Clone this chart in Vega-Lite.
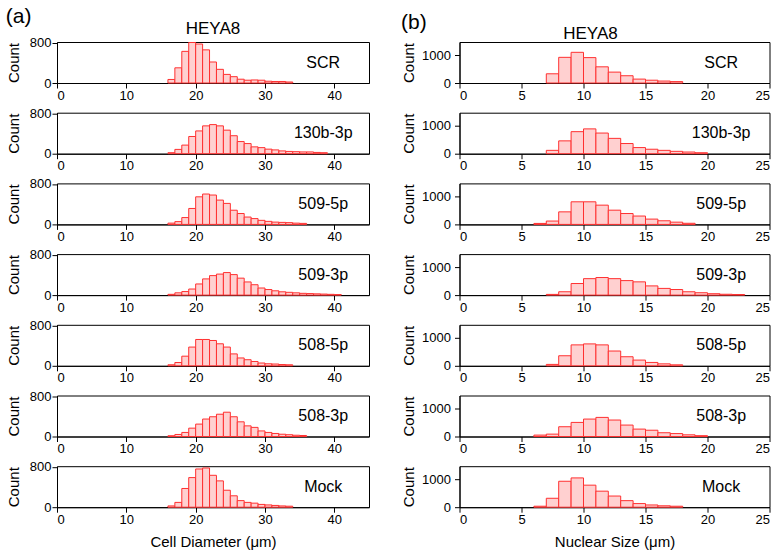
{
  "$schema": "https://vega.github.io/schema/vega-lite/v6.json",
  "background": "white",
  "padding": {"left": 5, "top": 6, "right": 5, "bottom": 2},
  "config": {
    "font": "Liberation Sans",
    "view": {"stroke": "#000", "strokeWidth": 1},
    "axis": {"grid": false, "domainColor": "#000", "tickColor": "#000", "labelColor": "#000", "titleColor": "#000", "labelFontSize": 13, "titleFontSize": 15, "titleFontWeight": "normal", "labelFont": "Liberation Sans", "titleFont": "Liberation Sans", "labelOverlap": false, "format": "d"},
    "title": {"font": "Liberation Sans", "fontWeight": "normal", "color": "#000"},
    "bar": {"fill": "#ffd0d0", "stroke": "#ff3030", "strokeWidth": 1},
    "text": {"font": "Liberation Sans", "fontSize": 16, "color": "#000"}
  },
  "hconcat": [
    {
      "title": {"text": "(a)", "anchor": "start", "fontSize": 21, "offset": -8},
      "spacing": 29.7,
      "bounds": "flush",
      "vconcat": [
        {"width": 312, "height": 41, "title": {"text": "HEYA8", "fontSize": 17, "offset": -1, "dx": 0},
         "layer": [
          {"data": {"values": [{"x0":16,"x1":17,"n":70},{"x0":17,"x1":18,"n":300},{"x0":18,"x1":19,"n":625},{"x0":19,"x1":20,"n":800},{"x0":20,"x1":21,"n":770},{"x0":21,"x1":22,"n":655},{"x0":22,"x1":23,"n":415},{"x0":23,"x1":24,"n":270},{"x0":24,"x1":25,"n":170},{"x0":25,"x1":26,"n":125},{"x0":26,"x1":27,"n":75},{"x0":27,"x1":28,"n":55},{"x0":28,"x1":29,"n":60},{"x0":29,"x1":30,"n":55},{"x0":30,"x1":31,"n":35},{"x0":31,"x1":32,"n":30},{"x0":32,"x1":33,"n":30},{"x0":33,"x1":34,"n":20}]},
           "mark": "bar",
           "encoding": {
            "x": {"field": "x0", "type": "quantitative", "scale": {"domain": [0, 45], "nice": false}, "axis": {"title": null, "values": [0,5,10,15,20,25,30,35,40], "labelExpr": "datum.value % 10 === 0 ? datum.label : ''", "tickSize": {"condition": {"test": "datum.value % 10 === 0", "value": 5}, "value": 3}, "labelPadding": 1}},
            "x2": {"field": "x1"},
            "y": {"field": "n", "type": "quantitative", "scale": {"domain": [0, 810], "nice": false}, "axis": {"title": "Count", "values": [0,200,400,600,800], "labelExpr": "datum.value % 400 === 0 ? datum.label : ''", "tickSize": {"condition": {"test": "datum.value % 400 === 0", "value": 5}, "value": 3}, "labelPadding": 1, "titlePadding": 8}},
            "y2": {"datum": 0}
           }},
          {"data": {"values": [{"label": "SCR"}]}, "mark": {"type": "text", "align": "center", "baseline": "middle"},
           "encoding": {"text": {"field": "label"}, "x": {"datum": 38.4}, "y": {"datum": 405}}}
         ]},
        {"width": 312, "height": 41,
         "layer": [
          {"data": {"values": [{"x0":16,"x1":17,"n":20},{"x0":17,"x1":18,"n":85},{"x0":18,"x1":19,"n":170},{"x0":19,"x1":20,"n":340},{"x0":20,"x1":21,"n":450},{"x0":21,"x1":22,"n":550},{"x0":22,"x1":23,"n":575},{"x0":23,"x1":24,"n":550},{"x0":24,"x1":25,"n":465},{"x0":25,"x1":26,"n":355},{"x0":26,"x1":27,"n":240},{"x0":27,"x1":28,"n":200},{"x0":28,"x1":29,"n":135},{"x0":29,"x1":30,"n":120},{"x0":30,"x1":31,"n":90},{"x0":31,"x1":32,"n":75},{"x0":32,"x1":33,"n":55},{"x0":33,"x1":34,"n":45},{"x0":34,"x1":35,"n":40},{"x0":35,"x1":36,"n":35},{"x0":36,"x1":37,"n":35},{"x0":37,"x1":38,"n":25},{"x0":38,"x1":39,"n":20}]},
           "mark": "bar",
           "encoding": {
            "x": {"field": "x0", "type": "quantitative", "scale": {"domain": [0, 45], "nice": false}, "axis": {"title": null, "values": [0,5,10,15,20,25,30,35,40], "labelExpr": "datum.value % 10 === 0 ? datum.label : ''", "tickSize": {"condition": {"test": "datum.value % 10 === 0", "value": 5}, "value": 3}, "labelPadding": 1}},
            "x2": {"field": "x1"},
            "y": {"field": "n", "type": "quantitative", "scale": {"domain": [0, 810], "nice": false}, "axis": {"title": "Count", "values": [0,200,400,600,800], "labelExpr": "datum.value % 400 === 0 ? datum.label : ''", "tickSize": {"condition": {"test": "datum.value % 400 === 0", "value": 5}, "value": 3}, "labelPadding": 1, "titlePadding": 8}},
            "y2": {"datum": 0}
           }},
          {"data": {"values": [{"label": "130b-3p"}]}, "mark": {"type": "text", "align": "center", "baseline": "middle"},
           "encoding": {"text": {"field": "label"}, "x": {"datum": 38.4}, "y": {"datum": 405}}}
         ]},
        {"width": 312, "height": 41,
         "layer": [
          {"data": {"values": [{"x0":16,"x1":17,"n":25},{"x0":17,"x1":18,"n":55},{"x0":18,"x1":19,"n":135},{"x0":19,"x1":20,"n":315},{"x0":20,"x1":21,"n":545},{"x0":21,"x1":22,"n":600},{"x0":22,"x1":23,"n":580},{"x0":23,"x1":24,"n":480},{"x0":24,"x1":25,"n":415},{"x0":25,"x1":26,"n":280},{"x0":26,"x1":27,"n":215},{"x0":27,"x1":28,"n":145},{"x0":28,"x1":29,"n":115},{"x0":29,"x1":30,"n":80},{"x0":30,"x1":31,"n":60},{"x0":31,"x1":32,"n":45},{"x0":32,"x1":33,"n":40},{"x0":33,"x1":34,"n":35},{"x0":34,"x1":35,"n":25},{"x0":35,"x1":36,"n":20}]},
           "mark": "bar",
           "encoding": {
            "x": {"field": "x0", "type": "quantitative", "scale": {"domain": [0, 45], "nice": false}, "axis": {"title": null, "values": [0,5,10,15,20,25,30,35,40], "labelExpr": "datum.value % 10 === 0 ? datum.label : ''", "tickSize": {"condition": {"test": "datum.value % 10 === 0", "value": 5}, "value": 3}, "labelPadding": 1}},
            "x2": {"field": "x1"},
            "y": {"field": "n", "type": "quantitative", "scale": {"domain": [0, 810], "nice": false}, "axis": {"title": "Count", "values": [0,200,400,600,800], "labelExpr": "datum.value % 400 === 0 ? datum.label : ''", "tickSize": {"condition": {"test": "datum.value % 400 === 0", "value": 5}, "value": 3}, "labelPadding": 1, "titlePadding": 8}},
            "y2": {"datum": 0}
           }},
          {"data": {"values": [{"label": "509-5p"}]}, "mark": {"type": "text", "align": "center", "baseline": "middle"},
           "encoding": {"text": {"field": "label"}, "x": {"datum": 38.4}, "y": {"datum": 405}}}
         ]},
        {"width": 312, "height": 41,
         "layer": [
          {"data": {"values": [{"x0":16,"x1":17,"n":15},{"x0":17,"x1":18,"n":45},{"x0":18,"x1":19,"n":70},{"x0":19,"x1":20,"n":120},{"x0":20,"x1":21,"n":220},{"x0":21,"x1":22,"n":320},{"x0":22,"x1":23,"n":385},{"x0":23,"x1":24,"n":415},{"x0":24,"x1":25,"n":445},{"x0":25,"x1":26,"n":405},{"x0":26,"x1":27,"n":335},{"x0":27,"x1":28,"n":260},{"x0":28,"x1":29,"n":205},{"x0":29,"x1":30,"n":140},{"x0":30,"x1":31,"n":110},{"x0":31,"x1":32,"n":85},{"x0":32,"x1":33,"n":65},{"x0":33,"x1":34,"n":55},{"x0":34,"x1":35,"n":45},{"x0":35,"x1":36,"n":35},{"x0":36,"x1":37,"n":30},{"x0":37,"x1":38,"n":25},{"x0":38,"x1":39,"n":20},{"x0":39,"x1":40,"n":15},{"x0":40,"x1":41,"n":10}]},
           "mark": "bar",
           "encoding": {
            "x": {"field": "x0", "type": "quantitative", "scale": {"domain": [0, 45], "nice": false}, "axis": {"title": null, "values": [0,5,10,15,20,25,30,35,40], "labelExpr": "datum.value % 10 === 0 ? datum.label : ''", "tickSize": {"condition": {"test": "datum.value % 10 === 0", "value": 5}, "value": 3}, "labelPadding": 1}},
            "x2": {"field": "x1"},
            "y": {"field": "n", "type": "quantitative", "scale": {"domain": [0, 810], "nice": false}, "axis": {"title": "Count", "values": [0,200,400,600,800], "labelExpr": "datum.value % 400 === 0 ? datum.label : ''", "tickSize": {"condition": {"test": "datum.value % 400 === 0", "value": 5}, "value": 3}, "labelPadding": 1, "titlePadding": 8}},
            "y2": {"datum": 0}
           }},
          {"data": {"values": [{"label": "509-3p"}]}, "mark": {"type": "text", "align": "center", "baseline": "middle"},
           "encoding": {"text": {"field": "label"}, "x": {"datum": 38.4}, "y": {"datum": 405}}}
         ]},
        {"width": 312, "height": 41,
         "layer": [
          {"data": {"values": [{"x0":16,"x1":17,"n":20},{"x0":17,"x1":18,"n":65},{"x0":18,"x1":19,"n":190},{"x0":19,"x1":20,"n":370},{"x0":20,"x1":21,"n":520},{"x0":21,"x1":22,"n":520},{"x0":22,"x1":23,"n":500},{"x0":23,"x1":24,"n":435},{"x0":24,"x1":25,"n":370},{"x0":25,"x1":26,"n":235},{"x0":26,"x1":27,"n":155},{"x0":27,"x1":28,"n":120},{"x0":28,"x1":29,"n":85},{"x0":29,"x1":30,"n":55},{"x0":30,"x1":31,"n":40},{"x0":31,"x1":32,"n":35},{"x0":32,"x1":33,"n":25},{"x0":33,"x1":34,"n":20}]},
           "mark": "bar",
           "encoding": {
            "x": {"field": "x0", "type": "quantitative", "scale": {"domain": [0, 45], "nice": false}, "axis": {"title": null, "values": [0,5,10,15,20,25,30,35,40], "labelExpr": "datum.value % 10 === 0 ? datum.label : ''", "tickSize": {"condition": {"test": "datum.value % 10 === 0", "value": 5}, "value": 3}, "labelPadding": 1}},
            "x2": {"field": "x1"},
            "y": {"field": "n", "type": "quantitative", "scale": {"domain": [0, 810], "nice": false}, "axis": {"title": "Count", "values": [0,200,400,600,800], "labelExpr": "datum.value % 400 === 0 ? datum.label : ''", "tickSize": {"condition": {"test": "datum.value % 400 === 0", "value": 5}, "value": 3}, "labelPadding": 1, "titlePadding": 8}},
            "y2": {"datum": 0}
           }},
          {"data": {"values": [{"label": "508-5p"}]}, "mark": {"type": "text", "align": "center", "baseline": "middle"},
           "encoding": {"text": {"field": "label"}, "x": {"datum": 38.4}, "y": {"datum": 405}}}
         ]},
        {"width": 312, "height": 41,
         "layer": [
          {"data": {"values": [{"x0":16,"x1":17,"n":15},{"x0":17,"x1":18,"n":40},{"x0":18,"x1":19,"n":80},{"x0":19,"x1":20,"n":165},{"x0":20,"x1":21,"n":245},{"x0":21,"x1":22,"n":345},{"x0":22,"x1":23,"n":390},{"x0":23,"x1":24,"n":440},{"x0":24,"x1":25,"n":480},{"x0":25,"x1":26,"n":390},{"x0":26,"x1":27,"n":290},{"x0":27,"x1":28,"n":210},{"x0":28,"x1":29,"n":180},{"x0":29,"x1":30,"n":110},{"x0":30,"x1":31,"n":80},{"x0":31,"x1":32,"n":60},{"x0":32,"x1":33,"n":45},{"x0":33,"x1":34,"n":35},{"x0":34,"x1":35,"n":25},{"x0":35,"x1":36,"n":20}]},
           "mark": "bar",
           "encoding": {
            "x": {"field": "x0", "type": "quantitative", "scale": {"domain": [0, 45], "nice": false}, "axis": {"title": null, "values": [0,5,10,15,20,25,30,35,40], "labelExpr": "datum.value % 10 === 0 ? datum.label : ''", "tickSize": {"condition": {"test": "datum.value % 10 === 0", "value": 5}, "value": 3}, "labelPadding": 1}},
            "x2": {"field": "x1"},
            "y": {"field": "n", "type": "quantitative", "scale": {"domain": [0, 810], "nice": false}, "axis": {"title": "Count", "values": [0,200,400,600,800], "labelExpr": "datum.value % 400 === 0 ? datum.label : ''", "tickSize": {"condition": {"test": "datum.value % 400 === 0", "value": 5}, "value": 3}, "labelPadding": 1, "titlePadding": 8}},
            "y2": {"datum": 0}
           }},
          {"data": {"values": [{"label": "508-3p"}]}, "mark": {"type": "text", "align": "center", "baseline": "middle"},
           "encoding": {"text": {"field": "label"}, "x": {"datum": 38.4}, "y": {"datum": 405}}}
         ]},
        {"width": 312, "height": 41,
         "layer": [
          {"data": {"values": [{"x0":16,"x1":17,"n":25},{"x0":17,"x1":18,"n":95},{"x0":18,"x1":19,"n":370},{"x0":19,"x1":20,"n":585},{"x0":20,"x1":21,"n":755},{"x0":21,"x1":22,"n":775},{"x0":22,"x1":23,"n":630},{"x0":23,"x1":24,"n":520},{"x0":24,"x1":25,"n":335},{"x0":25,"x1":26,"n":225},{"x0":26,"x1":27,"n":130},{"x0":27,"x1":28,"n":95},{"x0":28,"x1":29,"n":80},{"x0":29,"x1":30,"n":55},{"x0":30,"x1":31,"n":45},{"x0":31,"x1":32,"n":35},{"x0":32,"x1":33,"n":25},{"x0":33,"x1":34,"n":20}]},
           "mark": "bar",
           "encoding": {
            "x": {"field": "x0", "type": "quantitative", "scale": {"domain": [0, 45], "nice": false}, "axis": {"title": "Cell Diameter (μm)", "titlePadding": 8, "values": [0,5,10,15,20,25,30,35,40], "labelExpr": "datum.value % 10 === 0 ? datum.label : ''", "tickSize": {"condition": {"test": "datum.value % 10 === 0", "value": 5}, "value": 3}, "labelPadding": 1}},
            "x2": {"field": "x1"},
            "y": {"field": "n", "type": "quantitative", "scale": {"domain": [0, 810], "nice": false}, "axis": {"title": "Count", "values": [0,200,400,600,800], "labelExpr": "datum.value % 400 === 0 ? datum.label : ''", "tickSize": {"condition": {"test": "datum.value % 400 === 0", "value": 5}, "value": 3}, "labelPadding": 1, "titlePadding": 8}},
            "y2": {"datum": 0}
           }},
          {"data": {"values": [{"label": "Mock"}]}, "mark": {"type": "text", "align": "center", "baseline": "middle"},
           "encoding": {"text": {"field": "label"}, "x": {"datum": 38.4}, "y": {"datum": 405}}}
         ]}
      ]
    },
    {
      "title": {"text": "(b)", "anchor": "start", "fontSize": 21, "offset": -8},
      "spacing": 29.7,
      "bounds": "flush",
      "vconcat": [
        {"width": 310, "height": 41, "title": {"text": "HEYA8", "fontSize": 17, "offset": -1, "dx": -24},
         "layer": [
          {"data": {"values": [{"x0":7,"x1":8,"n":330},{"x0":8,"x1":9,"n":920},{"x0":9,"x1":10,"n":1100},{"x0":10,"x1":11,"n":910},{"x0":11,"x1":12,"n":580},{"x0":12,"x1":13,"n":390},{"x0":13,"x1":14,"n":260},{"x0":14,"x1":15,"n":140},{"x0":15,"x1":16,"n":100},{"x0":16,"x1":17,"n":70},{"x0":17,"x1":18,"n":50}]},
           "mark": "bar",
           "encoding": {
            "x": {"field": "x0", "type": "quantitative", "scale": {"domain": [0, 25], "nice": false}, "axis": {"title": null, "values": [0,2.5,5,7.5,10,12.5,15,17.5,20,22.5,25], "labelExpr": "datum.value % 5 === 0 ? datum.label : ''", "tickSize": {"condition": {"test": "datum.value % 5 === 0", "value": 5}, "value": 3}, "labelPadding": 1}},
            "x2": {"field": "x1"},
            "y": {"field": "n", "type": "quantitative", "scale": {"domain": [0, 1470], "nice": false}, "axis": {"title": "Count", "values": [0,500,1000], "labelExpr": "datum.value % 1000 === 0 ? datum.label : ''", "tickSize": {"condition": {"test": "datum.value % 1000 === 0", "value": 5}, "value": 3}, "labelPadding": 4, "titlePadding": 5}},
            "y2": {"datum": 0}
           }},
          {"data": {"values": [{"label": "SCR"}]}, "mark": {"type": "text", "align": "center", "baseline": "middle"},
           "encoding": {"text": {"field": "label"}, "x": {"datum": 21.1}, "y": {"datum": 735}}}
         ]},
        {"width": 310, "height": 41,
         "layer": [
          {"data": {"values": [{"x0":7,"x1":8,"n":120},{"x0":8,"x1":9,"n":460},{"x0":9,"x1":10,"n":790},{"x0":10,"x1":11,"n":890},{"x0":11,"x1":12,"n":740},{"x0":12,"x1":13,"n":550},{"x0":13,"x1":14,"n":365},{"x0":14,"x1":15,"n":220},{"x0":15,"x1":16,"n":160},{"x0":16,"x1":17,"n":120},{"x0":17,"x1":18,"n":85},{"x0":18,"x1":19,"n":60},{"x0":19,"x1":20,"n":35}]},
           "mark": "bar",
           "encoding": {
            "x": {"field": "x0", "type": "quantitative", "scale": {"domain": [0, 25], "nice": false}, "axis": {"title": null, "values": [0,2.5,5,7.5,10,12.5,15,17.5,20,22.5,25], "labelExpr": "datum.value % 5 === 0 ? datum.label : ''", "tickSize": {"condition": {"test": "datum.value % 5 === 0", "value": 5}, "value": 3}, "labelPadding": 1}},
            "x2": {"field": "x1"},
            "y": {"field": "n", "type": "quantitative", "scale": {"domain": [0, 1470], "nice": false}, "axis": {"title": "Count", "values": [0,500,1000], "labelExpr": "datum.value % 1000 === 0 ? datum.label : ''", "tickSize": {"condition": {"test": "datum.value % 1000 === 0", "value": 5}, "value": 3}, "labelPadding": 4, "titlePadding": 5}},
            "y2": {"datum": 0}
           }},
          {"data": {"values": [{"label": "130b-3p"}]}, "mark": {"type": "text", "align": "center", "baseline": "middle"},
           "encoding": {"text": {"field": "label"}, "x": {"datum": 21.1}, "y": {"datum": 735}}}
         ]},
        {"width": 310, "height": 41,
         "layer": [
          {"data": {"values": [{"x0":6,"x1":7,"n":35},{"x0":7,"x1":8,"n":120},{"x0":8,"x1":9,"n":450},{"x0":9,"x1":10,"n":810},{"x0":10,"x1":11,"n":810},{"x0":11,"x1":12,"n":690},{"x0":12,"x1":13,"n":510},{"x0":13,"x1":14,"n":390},{"x0":14,"x1":15,"n":300},{"x0":15,"x1":16,"n":190},{"x0":16,"x1":17,"n":130},{"x0":17,"x1":18,"n":80},{"x0":18,"x1":19,"n":40}]},
           "mark": "bar",
           "encoding": {
            "x": {"field": "x0", "type": "quantitative", "scale": {"domain": [0, 25], "nice": false}, "axis": {"title": null, "values": [0,2.5,5,7.5,10,12.5,15,17.5,20,22.5,25], "labelExpr": "datum.value % 5 === 0 ? datum.label : ''", "tickSize": {"condition": {"test": "datum.value % 5 === 0", "value": 5}, "value": 3}, "labelPadding": 1}},
            "x2": {"field": "x1"},
            "y": {"field": "n", "type": "quantitative", "scale": {"domain": [0, 1470], "nice": false}, "axis": {"title": "Count", "values": [0,500,1000], "labelExpr": "datum.value % 1000 === 0 ? datum.label : ''", "tickSize": {"condition": {"test": "datum.value % 1000 === 0", "value": 5}, "value": 3}, "labelPadding": 4, "titlePadding": 5}},
            "y2": {"datum": 0}
           }},
          {"data": {"values": [{"label": "509-5p"}]}, "mark": {"type": "text", "align": "center", "baseline": "middle"},
           "encoding": {"text": {"field": "label"}, "x": {"datum": 21.1}, "y": {"datum": 735}}}
         ]},
        {"width": 310, "height": 41,
         "layer": [
          {"data": {"values": [{"x0":7,"x1":8,"n":25},{"x0":8,"x1":9,"n":120},{"x0":9,"x1":10,"n":415},{"x0":10,"x1":11,"n":590},{"x0":11,"x1":12,"n":630},{"x0":12,"x1":13,"n":590},{"x0":13,"x1":14,"n":520},{"x0":14,"x1":15,"n":475},{"x0":15,"x1":16,"n":330},{"x0":16,"x1":17,"n":240},{"x0":17,"x1":18,"n":200},{"x0":18,"x1":19,"n":120},{"x0":19,"x1":20,"n":85},{"x0":20,"x1":21,"n":50},{"x0":21,"x1":22,"n":30},{"x0":22,"x1":23,"n":20}]},
           "mark": "bar",
           "encoding": {
            "x": {"field": "x0", "type": "quantitative", "scale": {"domain": [0, 25], "nice": false}, "axis": {"title": null, "values": [0,2.5,5,7.5,10,12.5,15,17.5,20,22.5,25], "labelExpr": "datum.value % 5 === 0 ? datum.label : ''", "tickSize": {"condition": {"test": "datum.value % 5 === 0", "value": 5}, "value": 3}, "labelPadding": 1}},
            "x2": {"field": "x1"},
            "y": {"field": "n", "type": "quantitative", "scale": {"domain": [0, 1470], "nice": false}, "axis": {"title": "Count", "values": [0,500,1000], "labelExpr": "datum.value % 1000 === 0 ? datum.label : ''", "tickSize": {"condition": {"test": "datum.value % 1000 === 0", "value": 5}, "value": 3}, "labelPadding": 4, "titlePadding": 5}},
            "y2": {"datum": 0}
           }},
          {"data": {"values": [{"label": "509-3p"}]}, "mark": {"type": "text", "align": "center", "baseline": "middle"},
           "encoding": {"text": {"field": "label"}, "x": {"datum": 21.1}, "y": {"datum": 735}}}
         ]},
        {"width": 310, "height": 41,
         "layer": [
          {"data": {"values": [{"x0":7,"x1":8,"n":50},{"x0":8,"x1":9,"n":360},{"x0":9,"x1":10,"n":750},{"x0":10,"x1":11,"n":785},{"x0":11,"x1":12,"n":750},{"x0":12,"x1":13,"n":530},{"x0":13,"x1":14,"n":325},{"x0":14,"x1":15,"n":205},{"x0":15,"x1":16,"n":120},{"x0":16,"x1":17,"n":70},{"x0":17,"x1":18,"n":35}]},
           "mark": "bar",
           "encoding": {
            "x": {"field": "x0", "type": "quantitative", "scale": {"domain": [0, 25], "nice": false}, "axis": {"title": null, "values": [0,2.5,5,7.5,10,12.5,15,17.5,20,22.5,25], "labelExpr": "datum.value % 5 === 0 ? datum.label : ''", "tickSize": {"condition": {"test": "datum.value % 5 === 0", "value": 5}, "value": 3}, "labelPadding": 1}},
            "x2": {"field": "x1"},
            "y": {"field": "n", "type": "quantitative", "scale": {"domain": [0, 1470], "nice": false}, "axis": {"title": "Count", "values": [0,500,1000], "labelExpr": "datum.value % 1000 === 0 ? datum.label : ''", "tickSize": {"condition": {"test": "datum.value % 1000 === 0", "value": 5}, "value": 3}, "labelPadding": 4, "titlePadding": 5}},
            "y2": {"datum": 0}
           }},
          {"data": {"values": [{"label": "508-5p"}]}, "mark": {"type": "text", "align": "center", "baseline": "middle"},
           "encoding": {"text": {"field": "label"}, "x": {"datum": 21.1}, "y": {"datum": 735}}}
         ]},
        {"width": 310, "height": 41,
         "layer": [
          {"data": {"values": [{"x0":6,"x1":7,"n":50},{"x0":7,"x1":8,"n":85},{"x0":8,"x1":9,"n":350},{"x0":9,"x1":10,"n":505},{"x0":10,"x1":11,"n":625},{"x0":11,"x1":12,"n":685},{"x0":12,"x1":13,"n":590},{"x0":13,"x1":14,"n":410},{"x0":14,"x1":15,"n":265},{"x0":15,"x1":16,"n":225},{"x0":16,"x1":17,"n":135},{"x0":17,"x1":18,"n":105},{"x0":18,"x1":19,"n":60},{"x0":19,"x1":20,"n":30}]},
           "mark": "bar",
           "encoding": {
            "x": {"field": "x0", "type": "quantitative", "scale": {"domain": [0, 25], "nice": false}, "axis": {"title": null, "values": [0,2.5,5,7.5,10,12.5,15,17.5,20,22.5,25], "labelExpr": "datum.value % 5 === 0 ? datum.label : ''", "tickSize": {"condition": {"test": "datum.value % 5 === 0", "value": 5}, "value": 3}, "labelPadding": 1}},
            "x2": {"field": "x1"},
            "y": {"field": "n", "type": "quantitative", "scale": {"domain": [0, 1470], "nice": false}, "axis": {"title": "Count", "values": [0,500,1000], "labelExpr": "datum.value % 1000 === 0 ? datum.label : ''", "tickSize": {"condition": {"test": "datum.value % 1000 === 0", "value": 5}, "value": 3}, "labelPadding": 4, "titlePadding": 5}},
            "y2": {"datum": 0}
           }},
          {"data": {"values": [{"label": "508-3p"}]}, "mark": {"type": "text", "align": "center", "baseline": "middle"},
           "encoding": {"text": {"field": "label"}, "x": {"datum": 21.1}, "y": {"datum": 735}}}
         ]},
        {"width": 310, "height": 41,
         "layer": [
          {"data": {"values": [{"x0":6,"x1":7,"n":35},{"x0":7,"x1":8,"n":320},{"x0":8,"x1":9,"n":930},{"x0":9,"x1":10,"n":1050},{"x0":10,"x1":11,"n":790},{"x0":11,"x1":12,"n":575},{"x0":12,"x1":13,"n":400},{"x0":13,"x1":14,"n":235},{"x0":14,"x1":15,"n":130},{"x0":15,"x1":16,"n":80},{"x0":16,"x1":17,"n":50},{"x0":17,"x1":18,"n":35}]},
           "mark": "bar",
           "encoding": {
            "x": {"field": "x0", "type": "quantitative", "scale": {"domain": [0, 25], "nice": false}, "axis": {"title": "Nuclear Size (μm)", "titlePadding": 8, "values": [0,2.5,5,7.5,10,12.5,15,17.5,20,22.5,25], "labelExpr": "datum.value % 5 === 0 ? datum.label : ''", "tickSize": {"condition": {"test": "datum.value % 5 === 0", "value": 5}, "value": 3}, "labelPadding": 1}},
            "x2": {"field": "x1"},
            "y": {"field": "n", "type": "quantitative", "scale": {"domain": [0, 1470], "nice": false}, "axis": {"title": "Count", "values": [0,500,1000], "labelExpr": "datum.value % 1000 === 0 ? datum.label : ''", "tickSize": {"condition": {"test": "datum.value % 1000 === 0", "value": 5}, "value": 3}, "labelPadding": 4, "titlePadding": 5}},
            "y2": {"datum": 0}
           }},
          {"data": {"values": [{"label": "Mock"}]}, "mark": {"type": "text", "align": "center", "baseline": "middle"},
           "encoding": {"text": {"field": "label"}, "x": {"datum": 21.1}, "y": {"datum": 735}}}
         ]}
      ]
    }
  ],
  "spacing": 30.5
}
